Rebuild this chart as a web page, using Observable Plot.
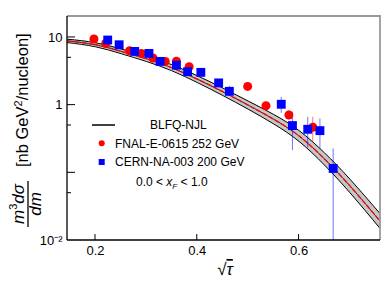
<!DOCTYPE html>
<html><head><meta charset="utf-8">
<script src="https://cdn.jsdelivr.net/npm/d3@7"></script>
<script src="https://cdn.jsdelivr.net/npm/@observablehq/plot@0.6"></script>
<style>
body{margin:0;background:#fff;}
#chart svg{font-family:"Liberation Sans",Arial,Helvetica,sans-serif;}
</style></head><body><div id="chart"></div>
<script>
// FNAL-E-0615 252 GeV (red circles)
const fnalX  = [0.197, 0.220, 0.267, 0.290, 0.313, 0.337, 0.359, 0.384, 0.499, 0.535, 0.580, 0.627];
const fnalY  = [9.47, 8.16, 6.37, 5.81, 4.97, 4.43, 4.45, 3.70, 1.89, 0.98, 0.716, 0.471];
const fnalLo = [9.1, 7.85, 6.1, 5.55, 4.75, 4.22, 4.22, 3.50, 1.72, 0.89, 0.605, 0.283];
const fnalHi = [9.85, 8.5, 6.65, 6.08, 5.2, 4.65, 4.68, 3.9, 2.07, 1.08, 0.83, 0.661];
// CERN-NA-003 200 GeV (blue squares)
const cernX  = [0.224, 0.2465, 0.277, 0.305, 0.327, 0.359, 0.381, 0.407, 0.442, 0.463, 0.565, 0.587, 0.617, 0.641, 0.667];
const cernY  = [9.16, 7.8, 6.22, 5.81, 4.43, 3.89, 3.12, 3.05, 2.13, 1.60, 1.03, 0.499, 0.44, 0.42, 0.116];
const cernLo = [8.8, 7.5, 5.95, 5.55, 4.2, 3.7, 2.95, 2.88, 1.98, 1.38, 0.757, 0.213, 0.234, 0.226, 0.001];
const cernHi = [9.5, 8.1, 6.5, 6.08, 4.66, 4.1, 3.3, 3.22, 2.3, 1.9, 1.30, 0.783, 0.661, 0.625, 0.226];
// BLFQ-NJL band
const bandX  = [0.145, 0.2, 0.25, 0.3, 0.35, 0.4, 0.45, 0.5, 0.55, 0.6, 0.65, 0.7, 0.76];
const bandC  = [8.9, 7.8, 6.25, 4.85, 3.57, 2.42, 1.58, 1.0, 0.62, 0.35, 0.16, 0.064, 0.019];
const bandHi = [9.43, 8.36, 6.77, 5.32, 3.96, 2.72, 1.79, 1.15, 0.729, 0.421, 0.197, 0.0806, 0.0245];
const bandLo = [8.40, 7.28, 5.77, 4.42, 3.22, 2.16, 1.39, 0.871, 0.528, 0.291, 0.130, 0.0508, 0.0148];
// ticks
const xTicks = [0.2, 0.4, 0.6];
const xTickLabels = ["0.2", "0.4", "0.6"];
const yTicks = [10, 1, 0.01];
const yTickLabels = ["10", "1", "10\u207B\u00B2"];
const yMajor = [10, 1, 0.1];
const yMinor = [5, 0.5, 0.05];
const legendLabels = ["BLFQ-NJL", "FNAL-E-0615 252 GeV", "CERN-NA-003 200 GeV"];

const fnal = fnalX.map((x, i) => ({x, y: fnalY[i], lo: fnalLo[i], hi: fnalHi[i]}));
const cern = cernX.map((x, i) => ({x, y: cernY[i], lo: cernLo[i], hi: cernHi[i]}));
const band = bandX.map((x, i) => ({x, c: bandC[i], hi: bandHi[i], lo: bandLo[i]}));
const xLab = new Map(xTicks.map((t, i) => [t, xTickLabels[i]]));
const yLab = new Map(yTicks.map((t, i) => [t, yTickLabels[i]]));

const chart = Plot.plot({
  width: 390, height: 281,
  marginLeft: 67, marginRight: 10, marginTop: 16, marginBottom: 41,
  style: {fontFamily: "Liberation Sans, Arial, sans-serif", background: "#fff", overflow: "visible"},
  x: {domain: [0.145, 0.76]},
  y: {type: "log", domain: [0.01, 20.4]},
  marks: [
    Plot.areaY(band, {x: "x", y1: "lo", y2: "hi", fill: "#c6c6c6", curve: "natural", clip: true}),
    Plot.lineY(band, {x: "x", y: "lo", stroke: "#000", strokeWidth: 1, curve: "natural", clip: true}),
    Plot.lineY(band, {x: "x", y: "hi", stroke: "#000", strokeWidth: 1, curve: "natural", clip: true}),
    Plot.lineY(band, {x: "x", y: "c", stroke: "#000", strokeWidth: 0.8, curve: "natural", clip: true}),
    Plot.lineY(band, {x: "x", y: "c", stroke: "#ff0000", strokeWidth: 1.3, strokeDasharray: "4,3", curve: "natural", clip: true}),
    Plot.ruleX(fnal, {x: "x", y1: "lo", y2: "hi", stroke: "#ff0000", strokeOpacity: 0.55, strokeWidth: 1, clip: true}),
    Plot.ruleX(cern, {x: "x", y1: "lo", y2: "hi", stroke: "#0000ff", strokeOpacity: 0.55, strokeWidth: 1, clip: true}),
    Plot.dot(fnal, {x: "x", y: "y", r: 4.5, fill: "#ff0000", stroke: null}),
    Plot.dot(cern, {x: "x", y: "y", r: 5, symbol: "square", fill: "#0000ff", stroke: null}),
    Plot.axisX({ticks: xTicks, tickSize: 0, tickPadding: 5, tickFormat: d => xLab.get(d), fontSize: 13, label: null}),
    Plot.axisY({ticks: yTicks, tickSize: 0, tickPadding: 5, tickFormat: d => yLab.get(d), fontSize: 13, label: null})
  ]
});
document.getElementById("chart").appendChild(chart);

const svg = d3.select(chart);
const sx = chart.scale("x"), sy = chart.scale("y");
const [L, R] = sx.range;
const B = Math.max(...sy.range), T = Math.min(...sy.range);
const g = svg.append("g").attr("text-anchor", "start");
// inner ticks
yMajor.forEach(v => g.append("line").attr("x1", L).attr("x2", L + 8).attr("y1", sy.apply(v)).attr("y2", sy.apply(v)).attr("stroke", "#000"));
yMinor.forEach(v => g.append("line").attr("x1", L).attr("x2", L + 4).attr("y1", sy.apply(v)).attr("y2", sy.apply(v)).attr("stroke", "#000"));
xTicks.forEach(v => g.append("line").attr("x1", sx.apply(v)).attr("x2", sx.apply(v)).attr("y1", B).attr("y2", B - 6).attr("stroke", "#000"));
// frame
g.append("line").attr("x1", L).attr("x2", R + 1).attr("y1", T).attr("y2", T).attr("stroke", "#9a9a9a").attr("stroke-width", 1.8);
g.append("line").attr("x1", R).attr("x2", R).attr("y1", T).attr("y2", B).attr("stroke", "#9a9a9a").attr("stroke-width", 1.8);
g.append("line").attr("x1", L).attr("x2", L).attr("y1", T).attr("y2", B).attr("stroke", "#000").attr("stroke-width", 1.3);
g.append("line").attr("x1", L).attr("x2", R).attr("y1", B).attr("y2", B).attr("stroke", "#000").attr("stroke-width", 1.3);

// x label
const xl = g.append("text").attr("x", 225).attr("y", 275).attr("text-anchor", "middle").attr("font-size", 17);
xl.append("tspan").text("\u221A");
xl.append("tspan").attr("font-style", "italic").attr("text-decoration", "overline").text("\u03C4");

// y label: fraction
const yf = g.append("g").attr("transform", "translate(0,204) rotate(-90)").attr("font-style", "italic").attr("font-size", 17);
const num = yf.append("text").attr("x", 0).attr("y", 24).attr("text-anchor", "middle");
num.append("tspan").text("m");
num.append("tspan").attr("dy", -7).attr("font-size", 11).attr("font-style", "normal").text("3");
num.append("tspan").attr("dy", 7).text("d\u03C3");
yf.append("text").attr("x", 0).attr("y", 41).attr("text-anchor", "middle").text("dm");
yf.append("line").attr("x1", -23).attr("x2", 23).attr("y1", 28).attr("y2", 28).attr("stroke", "#000").attr("stroke-width", 1.3);
const yb = g.append("text").attr("transform", "rotate(-90)").attr("x", -167).attr("y", 28).attr("font-size", 16.5).attr("text-anchor", "start");
yb.append("tspan").text("[nb GeV");
yb.append("tspan").attr("dy", -6).attr("font-size", 11).text("2");
yb.append("tspan").attr("dy", 6).text("/nucleon]");

// legend
const lg = g.append("g").attr("font-size", 12).attr("text-anchor", "start");
lg.append("line").attr("x1", 92).attr("x2", 115).attr("y1", 125).attr("y2", 125).attr("stroke", "#000").attr("stroke-width", 1.5);
lg.append("text").attr("x", 150).attr("y", 129).text(legendLabels[0]);
lg.append("circle").attr("cx", 101.7).attr("cy", 143.3).attr("r", 3).attr("fill", "#ff0000");
lg.append("text").attr("x", 115).attr("y", 147.5).text(legendLabels[1]);
lg.append("rect").attr("x", 98.7).attr("y", 159).attr("width", 6).attr("height", 6).attr("fill", "#0000ff");
lg.append("text").attr("x", 115).attr("y", 166).text(legendLabels[2]);
const xf = lg.append("text").attr("x", 136).attr("y", 185.5);
xf.append("tspan").text("0.0 < ");
xf.append("tspan").attr("font-style", "italic").text("x");
xf.append("tspan").attr("font-style", "italic").attr("font-size", 8).attr("dy", 3).text("F");
xf.append("tspan").attr("dy", -3).text(" < 1.0");
</script></body></html>
